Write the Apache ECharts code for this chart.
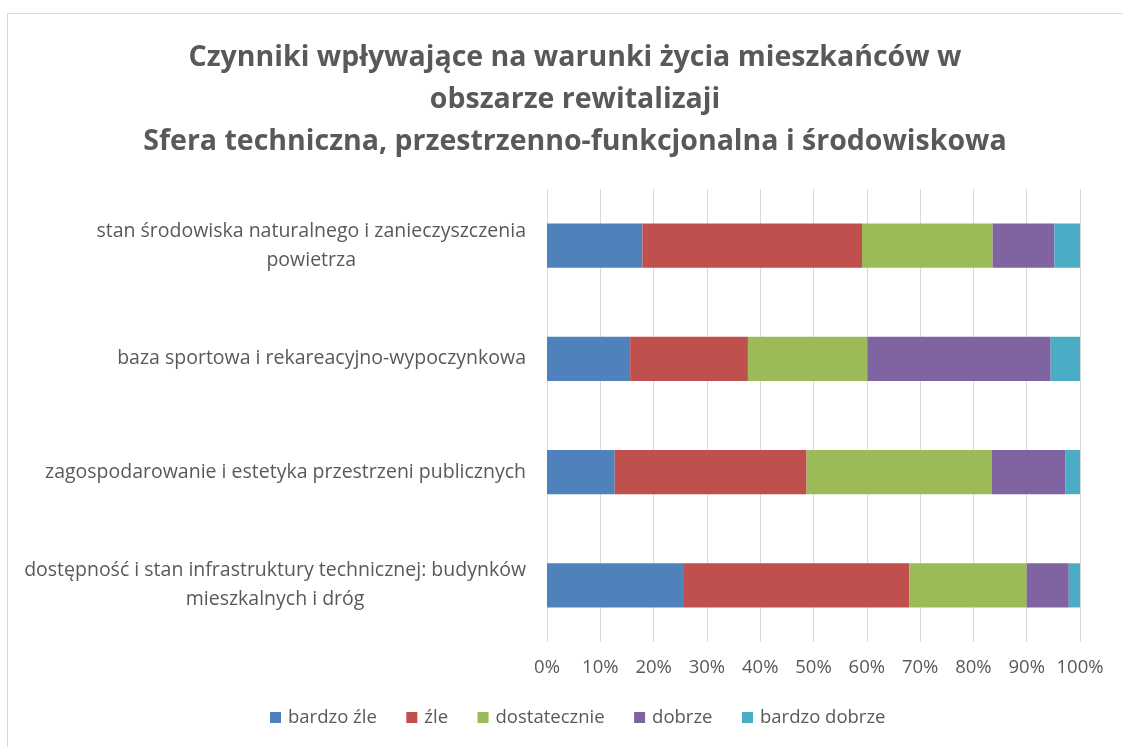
<!DOCTYPE html>
<html>
<head>
<meta charset="utf-8">
<script src="https://cdn.jsdelivr.net/npm/echarts@6/dist/echarts.min.js"></script>
<style>
  html, body { margin: 0; padding: 0; background: #fff; }
  #main { width: 1123px; height: 747px; }
</style>
</head>
<body>
<div id="main"></div>
<script>
// kategorie od dołu do góry (oś kategorii w ECharts rośnie w górę)
var categories = [
  "dostępność i stan infrastruktury technicznej: budynków\nmieszkalnych i dróg",
  "zagospodarowanie i estetyka przestrzeni publicznych",
  "baza sportowa i rekareacyjno-wypoczynkowa",
  "stan środowiska naturalnego i zanieczyszczenia\npowietrza"
];
var seriesNames = ["bardzo źle", "źle", "dostatecznie", "dobrze", "bardzo dobrze"];
var bardzoZle    = [25.7, 12.7, 15.6, 17.9];
var zle          = [42.3, 36.0, 22.1, 41.2];
var dostatecznie = [22.0, 34.7, 22.4, 24.5];
var dobrze       = [7.9, 13.9, 34.4, 11.6];
var bardzoDobrze = [2.1, 2.7, 5.5, 4.8];
var xTicks = [0, 10, 20, 30, 40, 50, 60, 70, 80, 90, 100];

var colors = ["#4F81BD", "#C0504D", "#9BBB59", "#8064A2", "#4BACC6"];
var values = [bardzoZle, zle, dostatecznie, dobrze, bardzoDobrze];
var font = "'Open Sans', 'Noto Sans', sans-serif";

var chart = echarts.init(document.getElementById("main"));

var series = seriesNames.map(function (name, i) {
  return {
    name: name,
    type: "bar",
    stack: "total",
    barCategoryGap: "61%",
    itemStyle: { color: colors[i] },
    emphasis: { disabled: true },
    data: values[i]
  };
});

var option = {
  animation: false,
  backgroundColor: "#fff",
  color: colors,
  title: {
    text: "Czynniki wpływające na warunki życia mieszkańców w\nobszarze rewitalizaji\nSfera techniczna, przestrzenno-funkcjonalna i środowiskowa",
    left: 570,
    top: 32,
    textAlign: "center",
    textStyle: {
      fontFamily: font,
      fontSize: 28.5,
      fontWeight: "bold",
      color: "#595959",
      lineHeight: 42
    }
  },
  legend: {
    bottom: 15,
    left: 265,
    itemWidth: 11,
    itemHeight: 11,
    itemGap: 29.5,
    icon: "rect",
    textStyle: { fontFamily: font, fontSize: 18.5, color: "#595959", padding: [0, 0, 0, 2] },
    data: seriesNames
  },
  grid: {
    left: 547,
    right: 43,
    top: 189,
    bottom: 105,
    containLabel: false
  },
  xAxis: {
    type: "value",
    min: 0,
    max: 100,
    interval: 10,
    axisLine: { show: false },
    axisTick: { show: false },
    axisLabel: {
      formatter: function (v) { return xTicks.indexOf(v) >= 0 ? v + "%" : ""; },
      fontFamily: font,
      fontSize: 18.5,
      color: "#595959",
      margin: 16
    },
    splitLine: { show: true, lineStyle: { color: "#D9D9D9", width: 1 } }
  },
  yAxis: {
    type: "category",
    data: categories,
    axisLine: { show: false },
    axisTick: { show: false },
    axisLabel: {
      margin: 21,
      formatter: function (v) {
        return v.split("\n").map(function (l) { return "{c|" + l + "}"; }).join("\n");
      },
      rich: {
        c: {
          align: "center",
          fontFamily: font,
          fontSize: 19.5,
          color: "#595959",
          lineHeight: 29
        }
      }
    }
  },
  graphic: [{
    type: "rect",
    shape: { x: 7.5, y: 13.5, width: 1130, height: 760 },
    style: { fill: "none", stroke: "#D9D9D9", lineWidth: 1 },
    silent: true
  }],
  series: series
};

chart.setOption(option);
</script>
</body>
</html>
